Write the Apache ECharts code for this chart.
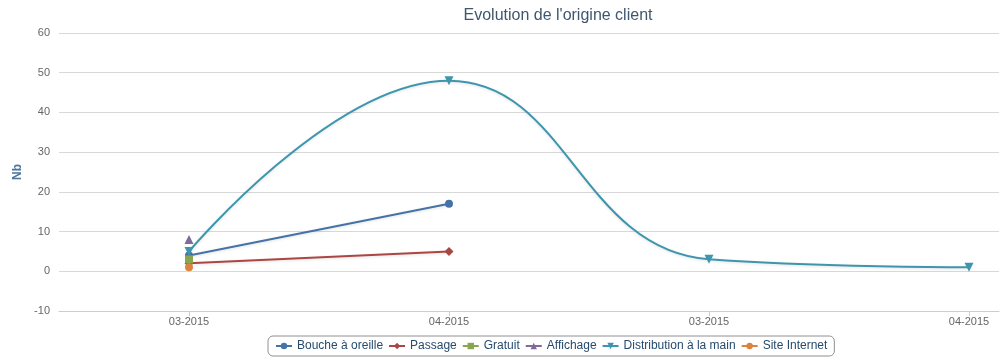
<!DOCTYPE html>
<html><head><meta charset="utf-8">
<script src="https://cdn.jsdelivr.net/npm/echarts@6/dist/echarts.min.js"></script>
<style>html,body{margin:0;padding:0;background:#fff}#c{width:1000px;height:357px}</style>
</head><body><div id="c"></div>
<script>
const categories = ['03-2015','04-2015','03-2015','04-2015'];
const boucheOreille = [4, 17, null, null];
const passage = [2, 5, null, null];
const gratuit = [3, null, null, null];
const affichage = [8, null, null, null];
const distribution = [5, 48, 3, 1];
const siteInternet = [1, null, null, null];

const font = 'Liberation Sans, Arial, sans-serif';
const toPairs = arr => arr.map((v, i) => v == null ? null : [i, v]).filter(p => p);
const mk = (name, data, color, symbol, extra) => Object.assign({
  name, type: 'line', data: toPairs(data), symbol, symbolSize: symbol === 'circle' ? 8 : (symbol === 'rect' ? 8 : 9),
  showSymbol: true,
  itemStyle: { color }, lineStyle: { color, width: 2, shadowColor: 'rgba(0,0,0,0.12)', shadowBlur: 3, shadowOffsetY: 1 },
  emphasis: { disabled: true }
}, extra || {});

const chart = echarts.init(document.getElementById('c'));
chart.setOption({
  animation: false,
  title: { text: 'Evolution de l\'origine client', left: 553, textAlign: 'center', top: 3,
    textStyle: { color: '#3E576F', fontSize: 16, fontWeight: 'normal', fontFamily: font } },
  grid: { left: 59, right: 1, top: 33, bottom: 46 },
  xAxis: {
    type: 'value', min: -0.5, max: 3 + 30 / 260,
    axisLine: { onZero: false, lineStyle: { color: '#C0D0E0', width: 1 } },
    axisTick: { show: true, length: 5, customValues: [0, 1, 2, 3], lineStyle: { color: '#C0D0E0' } },
    axisLabel: { color: '#666', fontSize: 11, margin: 5, fontFamily: font,
      customValues: [0, 1, 2, 3], formatter: v => categories[Math.round(v)] },
    splitLine: { show: false }
  },
  yAxis: {
    type: 'value', min: -10, max: 60, interval: 10,
    name: 'Nb', nameLocation: 'middle', nameGap: 33, nameRotate: 90,
    nameTextStyle: { color: '#4d759e', fontWeight: 'bold', fontSize: 12, fontFamily: font },
    axisLine: { show: false }, axisTick: { show: false },
    axisLabel: { color: '#666', fontSize: 11, margin: 9, fontFamily: font },
    splitLine: { lineStyle: { color: '#D8D8D8', width: 1 } }
  },
  legend: {
    bottom: 1, left: 268, width: 720,
    borderColor: '#909090', borderWidth: 1, borderRadius: 5, padding: [4, 7],
    itemGap: 5, itemWidth: 16, itemHeight: 8,
    textStyle: { color: '#274b6d', fontSize: 12, fontFamily: font },
    data: ['Bouche à oreille','Passage','Gratuit','Affichage','Distribution à la main','Site Internet']
  },
  series: [
    mk('Bouche à oreille', boucheOreille, '#4572A7', 'circle'),
    mk('Passage', passage, '#AA4643', 'diamond'),
    mk('Gratuit', gratuit, '#89A54E', 'rect'),
    mk('Affichage', affichage, '#80699B', 'triangle'),
    mk('Distribution à la main', distribution, '#3D96AE', 'path://M0,0 L10,0 L5,9 Z', { smooth: 0.45 }),
    mk('Site Internet', siteInternet, '#DB843D', 'circle')
  ]
});
</script></body></html>
